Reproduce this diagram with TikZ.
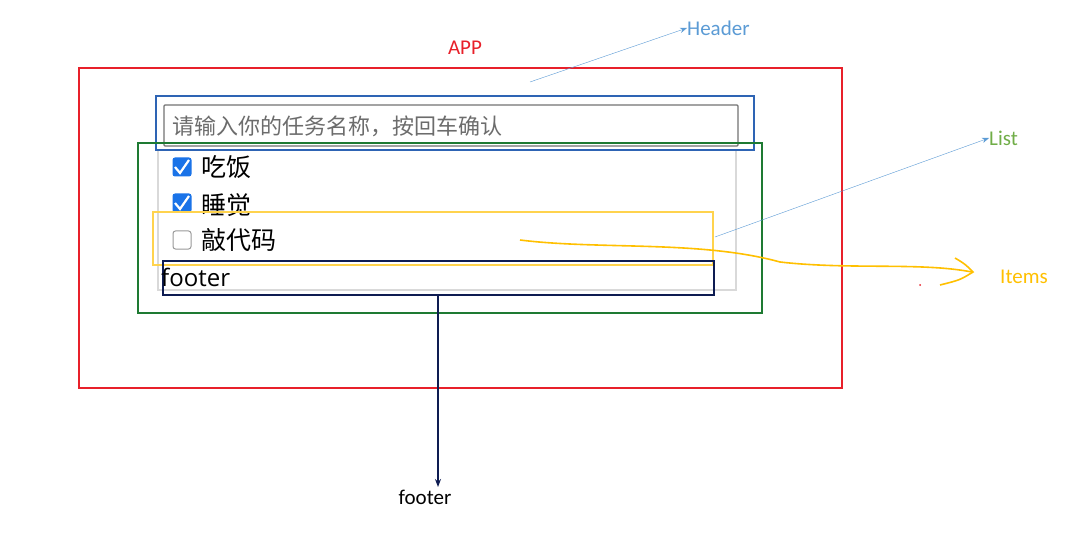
\documentclass[tikz,border=0pt]{standalone}
\usepackage{fontspec}
\setmainfont{Carlito}
\newfontfamily\cjk{Noto Sans CJK SC}
\newfontfamily\uif{Open Sans}
\usetikzlibrary{arrows.meta}
\definecolor{appred}{HTML}{E8202A}
\definecolor{hblue}{HTML}{2E64B4}
\definecolor{lblue}{HTML}{5B9BD5}
\definecolor{lgreen}{HTML}{1E7A32}
\definecolor{tgreen}{HTML}{70AD47}
\definecolor{iyel}{HTML}{FFC000}
\definecolor{ibox}{HTML}{FFD34D}
\definecolor{navy}{HTML}{0E1C52}
\definecolor{cbblue}{HTML}{1A73E8}
\begin{document}
\begin{tikzpicture}[x=1pt,y=-1pt,
  lbl/.style={font=\fontsize{21}{21}\selectfont,inner sep=0pt},
  item/.style={font=\cjk\fontsize{25}{25}\selectfont,inner sep=0pt,anchor=west},
  cbon/.style={fill=cbblue,rounded corners=2.5pt,minimum size=19pt,inner sep=0pt},
  cboff/.style={draw=gray!80,line width=1pt,fill=white,rounded corners=2.5pt,minimum size=18pt,inner sep=0pt}]
\useasboundingbox (0,0) rectangle (1068,548);
\fill[white] (0,0) rectangle (1068,548);
% gray panel
\draw[gray!30,line width=1.2pt] (158,150) -- (158,290) -- (736,290) -- (736,150);
% APP
\draw[appred,line width=1.3pt] (79,68) rectangle (842,388);
\node[lbl,text=appred] (appl) at (465,48) {APP};
% input
\draw[gray!90!black,line width=1.3pt,rounded corners=1pt] (164,105) rectangle (738,146);
\node[font=\cjk\fontsize{22}{22}\selectfont,text=gray!85!black,anchor=west,inner sep=0pt] (ph) at (172,126) {请输入你的任务名称，按回车确认};
\draw[hblue,line width=1.3pt] (156,96) rectangle (754,150);
% list
\draw[lgreen,line width=1.3pt] (138,143) rectangle (762,313);
% items
\node[cbon] (c1) at (182,167) {}; \draw[white,line width=2.2pt] (175,167)--(180,173)--(189,160);
\node[item] (t1) at (201,167) {吃饭};
\node[cbon] (c2) at (182,203) {}; \draw[white,line width=2.2pt] (175,203)--(180,209)--(189,196);
\node[item] (t2) at (201,205) {睡觉};
\node[cboff] (c3) at (182,240) {};
\node[item] (t3) at (201,240) {敲代码};
\draw[ibox,line width=1.4pt] (153,212) rectangle (713,265);
% footer
\draw[navy,line width=1.5pt] (163,261) rectangle (714,295);
\node[font=\uif\fontsize{24}{24}\selectfont,anchor=west,inner sep=0pt] (ft) at (161,277) {footer};
% labels & arrows
\node[lbl,text=lblue,anchor=west] (hl) at (687,28) {Header};
\coordinate (hs) at (530,82);
\draw[lblue,-{Stealth[length=7pt]}] (hs) -- (hl.west);
\node[lbl,text=tgreen,anchor=west] (ll) at (989,138) {List};
\coordinate (ls) at (715,237);
\draw[lblue,-{Stealth[length=7pt]}] (ls) -- (ll.west);
\node[lbl,text=iyel,anchor=west] (il) at (1000,277) {Items};
\coordinate (is) at (520,240);
\draw[iyel,line width=1.6pt] (is) .. controls (600,250) and (700,240) .. (780,262) .. controls (850,270) and (920,262) .. (972,272);
\draw[iyel,line width=1.6pt] (955,258) .. controls (965,264) .. (973,272) .. controls (960,280) .. (940,285);
\fill[appred] (920,285) circle (1pt);
\node[lbl,anchor=center] (fl) at (425,497) {footer};
\coordinate (fs) at (438,295);
\draw[navy,line width=1.2pt,-{Stealth[length=8pt]}] (fs) -- (438,487);
\end{tikzpicture}
\end{document}
